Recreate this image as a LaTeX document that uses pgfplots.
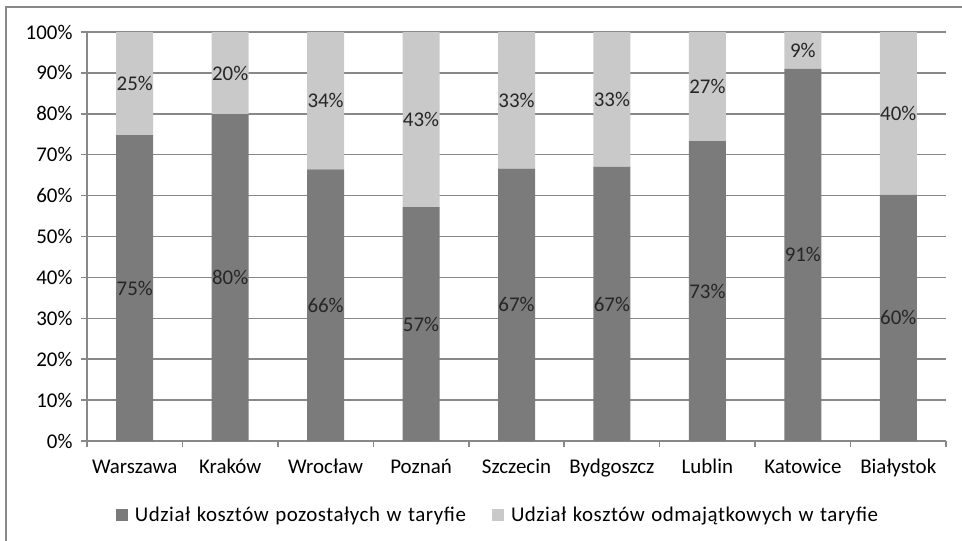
\documentclass[border=0pt]{standalone}
\usepackage{pgfplots}
\pgfplotsset{compat=1.18}
\usepackage{pgfplotstable}
\usepackage{fontspec}
\setmainfont{Carlito}
\newfontfamily\legfont[WordSpace=1.25, LetterSpace=2.5]{Carlito}

\definecolor{darkbar}{RGB}{123,123,123}
\definecolor{lightbar}{RGB}{201,201,201}
\definecolor{gridgray}{RGB}{136,136,136}

% udział kosztów: pozostałe (dark) / odmajątkowe (light)
\pgfplotstableread{
idx dark light dlab llab
0 74.8 25.2 75\% 25\%
1 79.9 20.1 80\% 20\%
2 66.4 33.6 66\% 34\%
3 57.2 42.8 57\% 43\%
4 66.6 33.4 67\% 33\%
5 67.0 33.0 67\% 33\%
6 73.3 26.7 73\% 27\%
7 91.0 9.0  91\% 9\%
8 60.2 39.8 60\% 40\%
}\costs

\pgfplotsset{
  base/.style={
    at={(87bp,-441bp)}, anchor=south west,
    scale only axis, width=859bp, height=409bp,
    xmin=-0.5, xmax=8.5, ymin=0, ymax=100,
  },
}

\begin{document}
\begin{tikzpicture}
\useasboundingbox (0,0) rectangle (962bp,-541bp);
\draw[gridgray, line width=1.5bp] (6bp,-541bp) -- (6bp,-7bp) -- (962bp,-7bp);

\begin{axis}[
  base,
  ybar stacked, bar width=37bp,
  axis x line*=bottom, axis y line*=left,
  axis line style={gridgray, line width=1.5bp, -},
  xtick={0,...,8},
  xticklabels={Warszawa,Kraków,Wrocław,Poznań,Szczecin,Bydgoszcz,Lublin,Katowice,Białystok},
  major x tick style={draw=none},
  minor xtick={-0.5,0.5,...,8.5},
  minor tick length=6bp,
  minor x tick style={gridgray, line width=1.5bp},
  ytick={0,10,...,100},
  yticklabels={0\%,10\%,20\%,30\%,40\%,50\%,60\%,70\%,80\%,90\%,100\%},
  major y tick style={gridgray, line width=1.5bp},
  major tick length=6bp,
  tick align=outside,
  ymajorgrids, grid style={gridgray, line width=1.5bp},
  ticklabel style={font=\fontsize{21}{25}\selectfont, text=black},
  xticklabel style={anchor=north, text height=15bp, text depth=5bp, yshift=-8bp},
  yticklabel style={xshift=-5bp},
  legend style={draw=none, fill=none, at={(0.03,-0.181)}, anchor=west,
    legend columns=2, font=\legfont\fontsize{21}{25}\selectfont,
    /tikz/every odd column/.append style={column sep=5bp},
    /tikz/every even column/.append style={column sep=24bp}},
  legend image code/.code={\fill[#1] (0bp,-6bp) rectangle (12bp,6bp);},
]
\addplot[fill=darkbar, draw=none] table[x=idx, y=dark] {\costs};
\addlegendentry{Udział kosztów pozostałych w taryfie}
\addplot[fill=lightbar, draw=none] table[x=idx, y=light] {\costs};
\addlegendentry{Udział kosztów odmajątkowych w taryfie}
\end{axis}

% segment labels, centred in each segment
\begin{axis}[
  base, hide axis,
  nodes near coords, point meta=explicit symbolic,
  every node near coord/.append style={anchor=center, font=\fontsize{21}{25}\selectfont, text=black!85},
]
\addplot[draw=none, mark=none] table[x=idx, y expr=\thisrow{dark}/2, meta=dlab] {\costs};
\addplot[draw=none, mark=none] table[x=idx, y expr=\thisrow{dark}+\thisrow{light}/2, meta=llab] {\costs};
\end{axis}
\end{tikzpicture}
\end{document}
